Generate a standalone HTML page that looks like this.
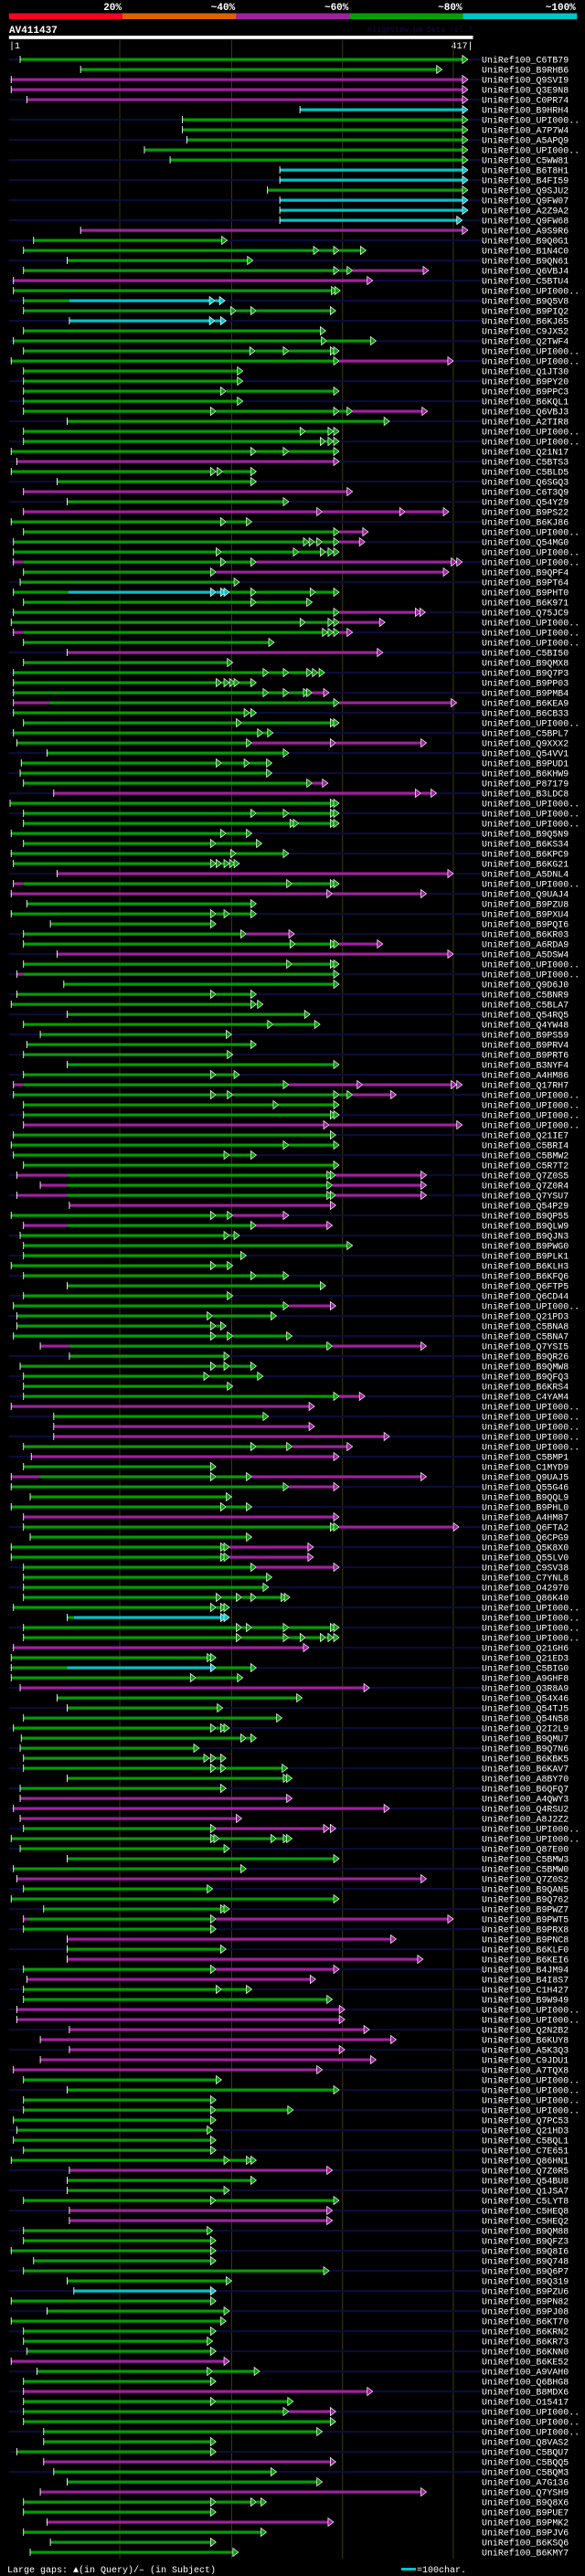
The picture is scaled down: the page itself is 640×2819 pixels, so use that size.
<!DOCTYPE html>
<html><head><meta charset="utf-8"><style>
html,body{margin:0;padding:0;background:#000;}
svg{display:block;}
text{font-family:"Liberation Mono",monospace;}
</style></head><body>
<svg id="chart" xmlns="http://www.w3.org/2000/svg" width="640" height="2819" viewBox="0 0 640 2819">
<rect x="0" y="0" width="640" height="2819" fill="#000"/>
<g id="hdr"></g>
<g id="grid"></g>
<g id="rows"></g>
<g id="ftr"></g>
</svg>
<script>
// identity key
const keyLabels = ["20%","~40%","~60%","~80%","~100%"];
const keyColors = ["#ff0022","#e06000","#a020a0","#00a000","#00c4c8"];
const queryName = "AV411437";
const queryLength = 417;
const gridPositions = [99,199,298,397];
// hits: label | dark background line | start:segments (lowercase=arrow end, uppercase=no arrow)
const hitLabels = ["C6TB79","B9RHB6","Q9SVI9","Q3E9N8","C0PR74","B9HRH4","UPI000..","A7P7W4","A5APQ9","UPI000..","C5WW81","B6T8H1","B4FI59","Q9SJU2","Q9FW07","A2Z9A2","Q9FW68","A9S9R6","B9Q0G1","B1N4C0","B9QN61","Q6VBJ4","C5BTU4","UPI000..","B9Q5V8",
"B9PIQ2","B6KJ65","C9JX52","Q2TWF4","UPI000..","UPI000..","Q1JT30","B9PY20","B9PPC3","B6KQL1","Q6VBJ3","A2TIR8","UPI000..","UPI000..","Q21N17","C5BTS3","C5BLD5","Q6SGQ3","C6T3Q9","Q54Y29","B9PS22","B6KJ86","UPI000..","Q54MG0","UPI000..",
"UPI000..","B9QPF4","B9PT64","B9PHT0","B6K971","Q75JC9","UPI000..","UPI000..","UPI000..","C5BI50","B9QMX8","B9Q7P3","B9PP03","B9PMB4","B6KEA9","B6CB33","UPI000..","C5BPL7","Q9XXX2","Q54VV1","B9PUD1","B6KHW9","P87179","B3LDC8","UPI000..",
"UPI000..","UPI000..","B9Q5N9","B6KS34","B6KPC9","B6KG21","A5DNL4","UPI000..","Q9UAJ4","B9PZU8","B9PXU4","B9PQI6","B6KR03","A6RDA9","A5DSW4","UPI000..","UPI000..","Q9D6J0","C5BNR9","C5BLA7","Q54RQ5","Q4YW48","B9PS59","B9PRV4","B9PRT6","B3NYF4","A4HM86","Q17RH7",
"UPI000..","UPI000..","UPI000..","UPI000..","Q21IE7","C5BRI4","C5BMW2","C5R7T2","Q7Z0S5","Q7Z0R4","Q7YSU7","Q54P29","B9QP55","B9QLW9","B9QJN3","B9PWG0","B9PLK1","B6KLH3","B6KFQ6","Q6FTP5","Q6CD44","UPI000..","Q21PD3","C5BNA8","C5BNA7","Q7YSI5","B9QR26","B9QMW8",
"B9QFQ3","B6KRS4","C4YAM4","UPI000..","UPI000..","UPI000..","UPI000..","UPI000..","C5BMP1","C1MYD9","Q9UAJ5","Q55G46","B9QQL9","B9PHL0","A4HM87","Q6FTA2","Q6CPG9","Q5K8X0","Q55LV0","C9SV38","C7YNL8","O42970","Q86K40","UPI000..","UPI000..","UPI000..","UPI000..","Q21GH6",
"Q21ED3","C5BIG0","A9GHF8","Q3R8A9","Q54X46","Q54TJ5","Q54N58","Q2I2L9","B9QMU7","B9Q7N6","B6KBK5","B6KAV7","A8BY70","B6QFQ7","A4QWY3","Q4RSU2","A8J2Z2","UPI000..","UPI000..","Q87E00","C5BMW3","C5BMW0","Q7Z0S2","B9QAN5","B9Q762","B9PWZ7","B9PWT5","B9PRX8","B9PNC8",
"B6KLF0","B6KEI6","B4JM94","B4I8S7","C1H427","B9W949","UPI000..","UPI000..","Q2N2B2","B6KUY8","A5K3Q3","C9JDU1","A7TQX8","UPI000..","UPI000..","UPI000..","UPI000..","Q7PC53","Q21HD3","C5BQL1","C7E651","Q86HN1","Q7Z0R5","Q54BU8","Q1JSA7","C5LYT8","C5HEQ8","C5HEQ2",
"B9QM88","B9QFZ3","B9Q8I6","B9Q748","B9Q6P7","B9Q319","B9PZU6","B9PN82","B9PJ08","B6KT70","B6KRN2","B6KR73","B6KNN0","B6KE52","A9VAH0","Q6BHG8","B8MDX6","O15417","UPI000..","UPI000..","UPI000..","Q8VAS2","C5BQU7","C5BQQ5","C5BQM3","A7G136","Q7YSH9","B9Q8X6","B9PUE7","B9PMK2","B9PJV6","B6KSQ6","B6KMY7"];
const hitDark = "1010101010101010101010101010101010101010101010101010100101010101010101010101010101010101010101010101010101010101010101010101010101010101010100101010101010101010101010101010101010101010101010101010101010101010101010101010101010101010101010101";
const hitSegs = ["10:g410","64:g387","2:m410","2:m410","16:m410","260:c410","155:g410","155:g410","159:g410","121:g410","144:g410","242:c410","242:c410","231:g410","242:c410","242:c410","242:c405","64:m410","22:g195","13:g277,g295,g319","52:g218","13:g295,g307,m375","4:m325","4:g293,g296","13:G54,c184,c193",
"13:g203,g221,g292","54:c184,c194","13:g283","4:g284,g328","13:g220,g250,g292,g295","2:g295,m397","13:g209","13:g209","13:g194,g295","13:g209","13:g185,g295,g307,m374","52:g340","13:g265,g290,g295","13:g283,g290,g295","2:g221,g250,g295","7:m295","2:g185,g191,g221","43:g221","13:m307","52:g250","13:m280,m354,m393","2:g194,g217","13:g295,m321","4:g268,g273,g280,g295,m318","4:g190,g259,g283,g290,g295",
"4:M13,g194,g221,m400,m405","13:g185,m393","10:g206","4:G53,c185,c194,c197,g221,g274,g295","13:g221,g271","4:g295,m368,m372","2:g265,g290,g295,m336","4:M13,g285,g290,g295,m307","13:g237","52:m334","13:g200","4:g232,g250,g271,g276,g282","4:g190,g197,g202,g206,g221","4:g232,g250,g268,g271,m286","4:M36,g295,m400","4:g215,g221","13:g208,g292,g295","4:g227,g236","7:g217,m292,m373","34:g250","11:g190,g215,g235","10:g235","13:g271,m285","40:m368,m382","1:g292,g295",
"13:g221,g250,g292,g295","13:g256,g259,g292,g295","2:g194,g217","13:g185,g226","2:g203,g250","4:g185,g190,g197,g202,g206","43:m397","4:M13,g253,g292,g295","2:m289,m373","16:g221","2:g185,g197,g221","37:g185","13:g212,m255","13:g256,g292,g295,m334","43:m397","13:g253,g292,g295","7:M13,g295","49:g295","7:g185,g221","2:g221,g227","52:g269","13:g236,g278","28:g199","16:g221","13:g200","52:g295","13:g185,g206","4:M13,g250,m316,m400,m405",
"4:g185,g200,g295,g307,m346","13:g241,g295","13:g292,g295","13:m286,m405","4:g292","2:g250,g295","4:g197,g221","13:g295","7:M52,g289,g292,m373","28:M52,g289,m373","7:M52,g289,g292,m373","54:m292","2:g185,g200,m250","13:M52,g221,m289","10:g197,g206","13:g307","13:g212","2:g185,g200","13:g221,g250","52:g283","13:g200","4:g250,m292","7:g182,g239","7:g185,g194","4:g185,g200,g253","28:M54,g289,m373","54:g197","10:g185,g197,g221",
"13:g179,g227","13:g200","13:g295,m318","2:m273","40:g232","40:m273","40:m340","13:g221,g253,m307","20:m295","13:g185","2:M28,g185,g217,m373","2:g250,m295","19:g199","2:g194,g217","13:m295","13:g292,g295,m402","19:g217","2:g194,g197,m272","2:g194,g197,m272","13:g221,m295","13:g235","13:g232","13:g190,g208,g221,g248,g251","4:g185,g194,g197","52:G58,c194,c197","13:g208,g217,g250,g292,g295","13:g208,g250,g265,g283,g290,g295","4:m268",
"2:g182,g185","2:G52,c185,g221","2:g167,g209","10:m322","43:g262","52:g191","13:g244","4:g185,g194,g197","11:g212,g221","10:g170","13:g179,g185,g194","13:g185,g194,g249","52:g250,g253","10:g194","10:m253","4:m340","10:m208","13:g185,m286,m292","2:g185,g188,g239,g250,g253","10:g197","52:g295","4:g212","7:m373","13:g182","2:g295","31:g194,g197","13:M17,g185,m397","13:g185","52:m346",
"52:g194","52:m370","13:g185,m295","16:m274","13:g190,g217","13:g289","7:m300","7:m300","54:m322","28:m346","54:m300","28:m328","4:m280","13:g190","52:g295","13:g185","13:g185,g254","4:g185","7:g182","4:g185","13:g185","2:g197,g217,g221","54:m289","52:g221","52:g197","13:g185,g295","54:m289","54:m289",
"13:g182","13:g185","2:g185","22:g185","13:g286","52:g199","58:c185","2:g185","34:g197","2:g194","13:g185","13:g182","16:g185","2:m197","25:g182,g224","13:g185","13:m325","13:g185,g254","13:g250,m292","13:g292","31:g280","31:g185","7:g185","31:m292","40:g239","52:g280","28:m373","13:g185,g221,g230","13:g185","34:m290","13:g230","37:g185","19:g205"];

const NS="http://www.w3.org/2000/svg";
const segColors={g:"#00a000",m:"#a020a0",c:"#00c4c8"};
const X0=9.8, XS=1.2245;
function xs(p){return X0+p*XS;}
function rowY(i){return 65+11*i;}
function el(tag,attrs,parent){const e=document.createElementNS(NS,tag);for(const k in attrs)e.setAttribute(k,attrs[k]);parent.appendChild(e);return e;}

// header
const hdr=document.getElementById('hdr');
const keyX0=9.8, keyW=124.2;
keyLabels.forEach((lab,i)=>{
  const r=el('rect',{x:keyX0+i*keyW,y:14.5,width:keyW+0.5,height:6.5,fill:keyColors[i]},hdr);
  
  
  const t=el('text',{x:keyX0+(i+1)*keyW-1,y:11,'text-anchor':'end',fill:'#fff','font-size':'11','font-weight':'bold'},hdr);
  t.textContent=lab;
  
  
});
let t=el('text',{x:10,y:36,fill:'#fff','font-size':'11','font-weight':'bold'},hdr);t.textContent=queryName;


t=el('text',{x:402,y:35,fill:'#101048','font-size':'9',textLength:115,lengthAdjust:'spacingAndGlyphs'},hdr);t.textContent="AlignView.pm Beta rel.7";


let qb=el('rect',{x:xs(0),y:39,width:xs(414.6)-xs(0),height:3.8,fill:'#fff'},hdr);


t=el('text',{x:10,y:53,fill:'#fff','font-size':'10'},hdr);t.textContent="|1";


t=el('text',{x:xs(414.6),y:53,fill:'#fff','font-size':'10','text-anchor':'end'},hdr);t.textContent=queryLength+"|";



// grid
const grid=document.getElementById('grid');
gridPositions.forEach(p=>{
  const l=el('line',{x1:xs(p),x2:xs(p),y1:44,y2:2800,stroke:'#3a3a12','stroke-width':1},grid);
  
  
});

// rows
const rows=document.getElementById('rows');
hitLabels.forEach((lab,i)=>{
  const y=rowY(i);
  const g=el('g',{},rows);
  
  
  if(hitDark[i]==='1'){
    const d=el('rect',{x:xs(0),y:y-1,width:527-xs(0),height:2.2,fill:'#0c0c3a'},g);
    
    
  }
  const parts=hitSegs[i].split(':');
  let cur=+parts[0];
  const start=cur;
  parts[1].split(',').forEach(s=>{
    const code=s[0], end=+s.slice(1);
    const col=segColors[code.toLowerCase()];
    const arrow=(code===code.toLowerCase());
    const xe=xs(end);
    const r=el('rect',{x:xs(cur),y:y-1.5,width:Math.max(0,(arrow?xe-5:xe)-xs(cur)),height:3.2,fill:col},g);
    
    
    if(arrow){
      const a=el('polygon',{points:(xe-6)+','+(y-4.5)+' '+xe+','+y+' '+(xe-6)+','+(y+4.5),fill:col,stroke:'#fff','stroke-width':0.7},g);
      
      
    }
    cur=end;
  });
  const tk=el('line',{x1:xs(start),x2:xs(start),y1:y-4,y2:y+4,stroke:'#fff','stroke-width':0.9},g);
  
  
  const full="UniRef100_"+lab;
  const tx=el('text',{x:527,y:y+3.5,fill:'#fff','font-size':'10',textLength:(full.length*5.95).toFixed(1),lengthAdjust:'spacingAndGlyphs'},g);
  tx.textContent=full;
  
  
});

// footer
const ftr=document.getElementById('ftr');
t=el('text',{x:8,y:2815,fill:'#fff','font-size':'10',textLength:228,lengthAdjust:'spacingAndGlyphs'},ftr);
t.textContent="Large gaps: \u25B2(in Query)/\u2013 (in Subject)";


let kb=el('rect',{x:439,y:2810,width:16,height:3,fill:'#00c4c8'},ftr);


t=el('text',{x:456,y:2815,fill:'#fff','font-size':'10'},ftr);t.textContent="=100char.";


</script>
</body></html>
